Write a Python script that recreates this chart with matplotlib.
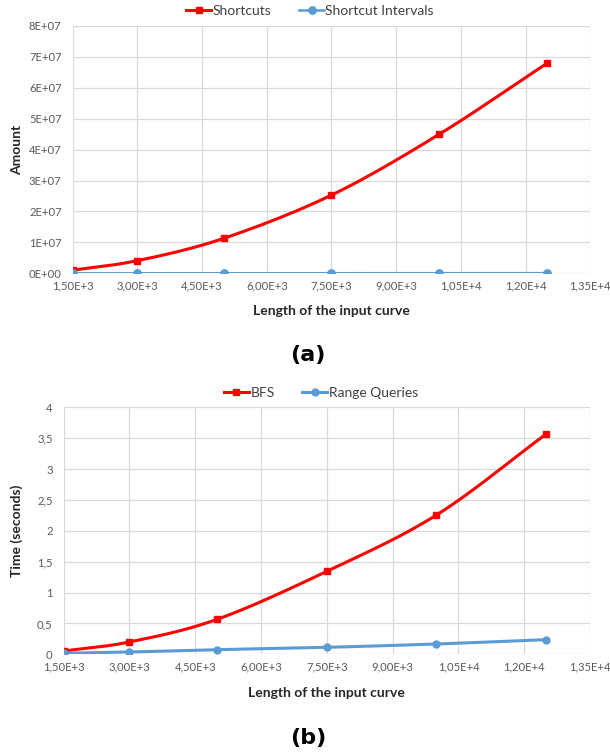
import numpy as np
import matplotlib
matplotlib.use("Agg")
import matplotlib.pyplot as plt
from matplotlib.ticker import FixedLocator, FixedFormatter

# data
length = [1500, 3000, 5000, 7500, 10000, 12500]
shortcuts = [1.0e6, 4.1e6, 1.13e7, 2.53e7, 4.5e7, 6.8e7]
shortcut_intervals = [2.0e3, 5.0e3, 1.0e4, 2.0e4, 3.0e4, 4.5e4]
bfs_time = [0.053, 0.20, 0.567, 1.344, 2.256, 3.568]
range_time = [0.016, 0.037, 0.075, 0.113, 0.167, 0.237]

x_ticks = [1500, 3000, 4500, 6000, 7500, 9000, 10500, 12000, 13500]
x_labels = ["1,50E+3", "3,00E+3", "4,50E+3", "6,00E+3", "7,50E+3",
            "9,00E+3", "1,05E+4", "1,20E+4", "1,35E+4"]
top_yticks = [0, 1e7, 2e7, 3e7, 4e7, 5e7, 6e7, 7e7, 8e7]
top_ylabels = ["0E+00", "1E+07", "2E+07", "3E+07", "4E+07",
               "5E+07", "6E+07", "7E+07", "8E+07"]
bot_yticks = [0, 0.5, 1, 1.5, 2, 2.5, 3, 3.5, 4]
bot_ylabels = ["0", "0,5", "1", "1,5", "2", "2,5", "3", "3,5", "4"]

RED = "#FF0000"
BLUE = "#5B9BD5"
W, H = 610, 754
plt.rcParams['font.family'] = ['Lato', 'DejaVu Sans']


def smooth(x, y, n=30):
    # Catmull-Rom curve through the points, like Excel's smoothed line
    x = np.asarray(x, float)
    y = np.asarray(y, float)
    px = np.concatenate([[2 * x[0] - x[1]], x, [2 * x[-1] - x[-2]]])
    py = np.concatenate([[2 * y[0] - y[1]], y, [2 * y[-1] - y[-2]]])
    xs, ys = [], []
    t = np.linspace(0, 1, n)
    for i in range(1, len(px) - 2):
        for p, out in ((px, xs), (py, ys)):
            p0, p1, p2, p3 = p[i - 1], p[i], p[i + 1], p[i + 2]
            out.extend(0.5 * (2 * p1 + (-p0 + p2) * t
                              + (2 * p0 - 5 * p1 + 4 * p2 - p3) * t ** 2
                              + (-p0 + 3 * p1 - 3 * p2 + p3) * t ** 3))
    return xs, ys


def draw(ax, series, yticks, ylabels, ylabel, box, legend_xy):
    left, top, right, bottom = box
    for y, color, marker, ms, lw, name in series:
        sx, sy = smooth(length, y)
        ax.plot(sx, sy, color=color, linewidth=lw, zorder=3,
                solid_capstyle="round")
        ax.plot(length, y, linestyle="none", marker=marker, markersize=ms,
                color=color, zorder=4)
        ax.plot([], [], color=color, marker=marker, markersize=ms,
                linewidth=lw, label=name)
    ax.set_xlim(1500, 13500)
    ax.set_ylim(yticks[0], yticks[-1])
    ax.xaxis.set_major_locator(FixedLocator(x_ticks))
    ax.xaxis.set_major_formatter(FixedFormatter(x_labels))
    ax.yaxis.set_major_locator(FixedLocator(yticks))
    ax.yaxis.set_major_formatter(FixedFormatter(ylabels))
    ax.grid(True, color="#D9D9D9", linewidth=0.9)
    ax.set_axisbelow(True)
    for s in ax.spines.values():
        s.set_visible(False)
    ax.tick_params(length=0, labelsize=8.1, colors="#595959")
    ax.tick_params(axis="y", pad=8)
    ax.tick_params(axis="x", pad=5)
    ax.set_xlabel("Length of the input curve", fontsize=10,
                  fontweight="bold", color="#262626")
    ax.set_ylabel(ylabel, fontsize=10, fontweight="bold", color="#262626")
    aw, ah = right - left, bottom - top
    ax.xaxis.set_label_coords(0.5, (bottom - legend_xy[2]) / ah)
    ax.yaxis.set_label_coords((23 - left) / aw, 0.5)
    fig = ax.figure
    leg = ax.legend(loc="center", bbox_to_anchor=(legend_xy[0] / W,
                                                  1 - legend_xy[1] / H),
                    bbox_transform=fig.transFigure, ncol=2, frameon=False,
                    fontsize=10, handlelength=1.8, handletextpad=0.1,
                    columnspacing=2.0, borderaxespad=0, borderpad=0)
    for t in leg.get_texts():
        t.set_color("#404040")


fig = plt.figure(figsize=(W / 100, H / 100), dpi=100)

# plot area boxes in pixels: left, top, right, bottom
box1 = (72.7, 26.0, 590.3, 273.3)
box2 = (63.7, 407.3, 590.0, 654.3)


def add(box):
    l, t, r, b = box
    return fig.add_axes([l / W, 1 - b / H, (r - l) / W, (b - t) / H])


ax1 = add(box1)
ax2 = add(box2)

draw(ax1, [(shortcuts, RED, "s", 4.5, 2.2, "Shortcuts"),
           (shortcut_intervals, BLUE, "o", 5.3, 1.8, "Shortcut Intervals")],
     top_yticks, top_ylabels, "Amount", box1, (310, 11, 305))
draw(ax2, [(bfs_time, RED, "s", 4.5, 2.2, "BFS"),
           (range_time, BLUE, "o", 5, 2.2, "Range Queries")],
     bot_yticks, bot_ylabels, "Time (seconds)", box2, (321, 393, 687))

fig.text(308 / W, 1 - 355 / H, "(a)", ha="center", va="center",
         fontsize=16, fontweight="bold", family="DejaVu Sans")
fig.text(308 / W, 1 - 738 / H, "(b)", ha="center", va="center",
         fontsize=16, fontweight="bold", family="DejaVu Sans")

fig.savefig("out.png", dpi=100)
